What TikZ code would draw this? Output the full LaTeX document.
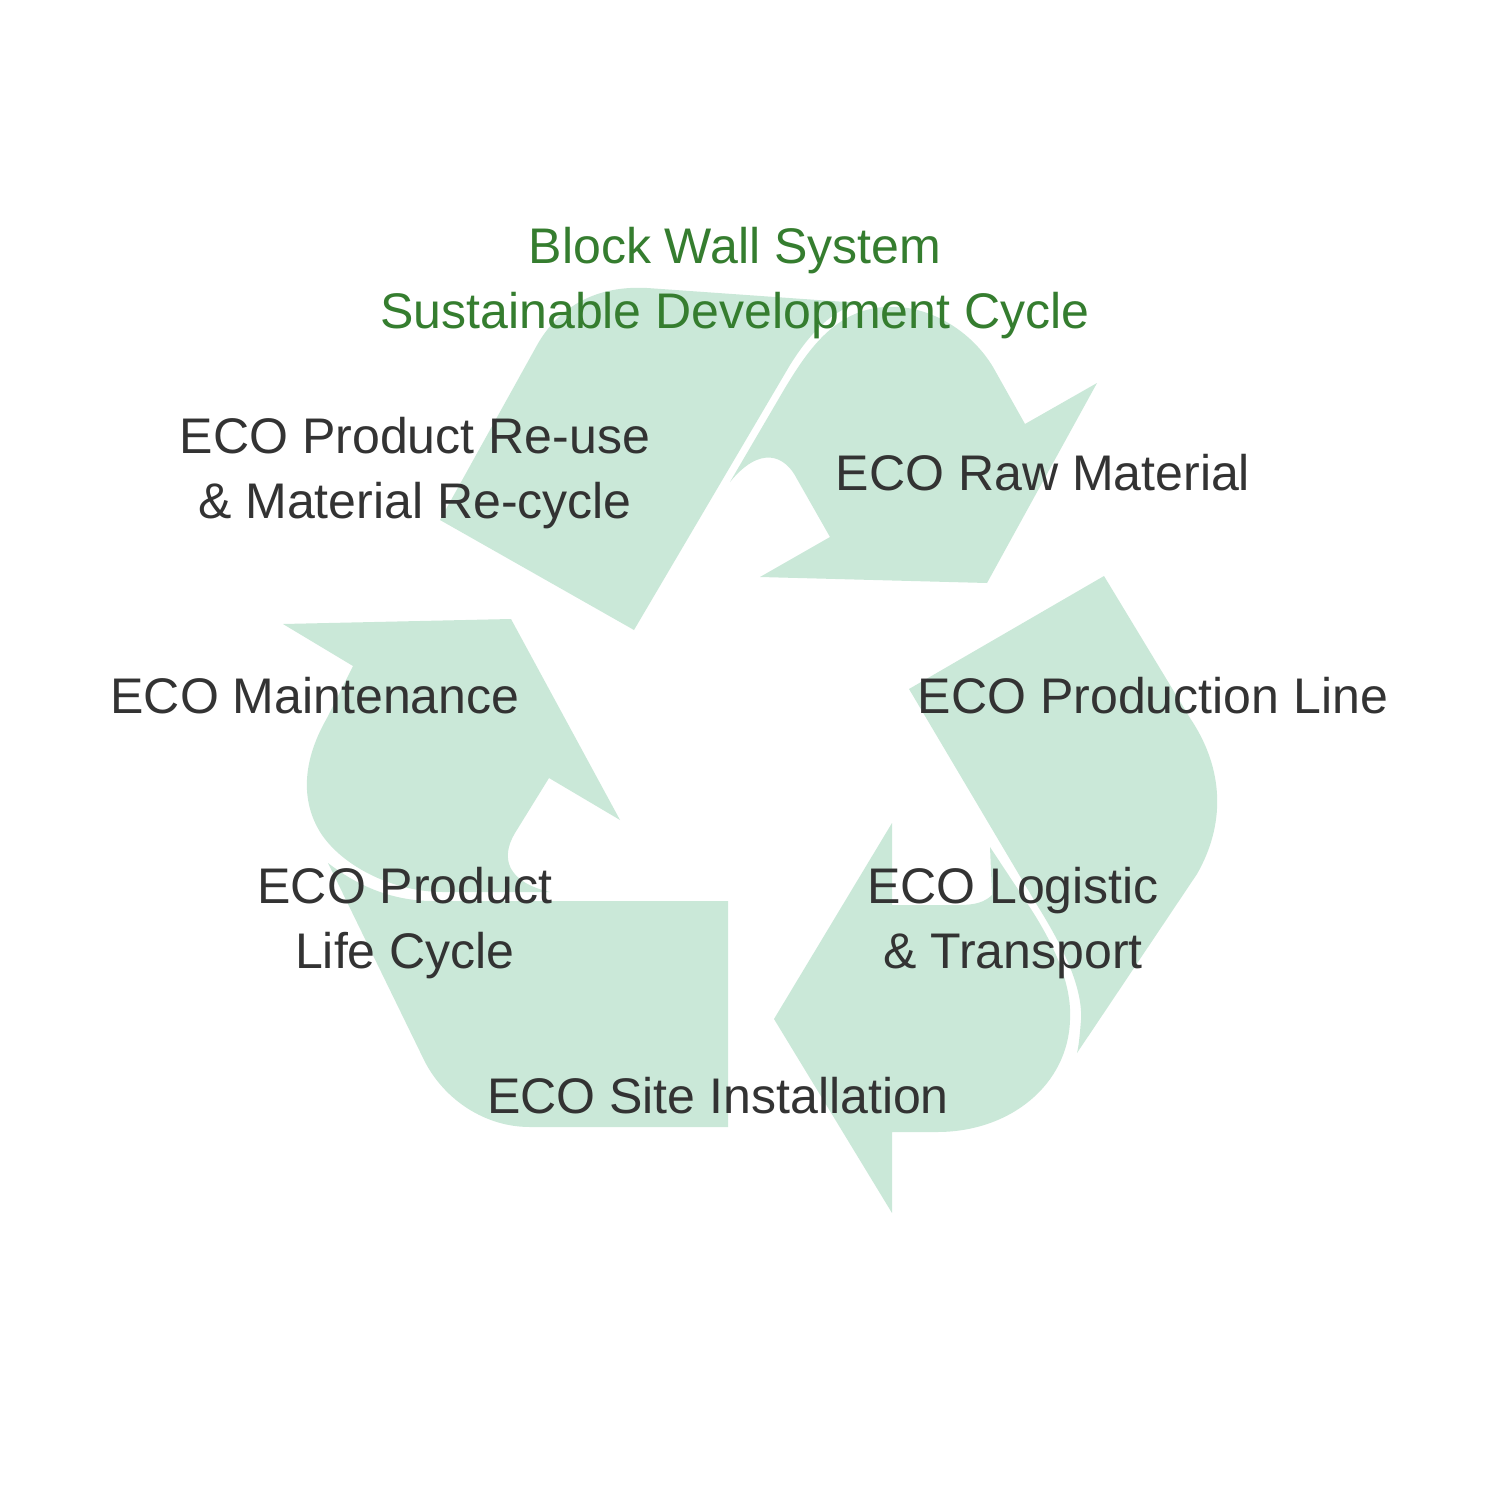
\documentclass[tikz,border=0pt]{standalone}
\usepackage{fontspec}
\setmainfont{Liberation Sans}
\definecolor{leaf}{HTML}{CAE8D8}
\definecolor{ink}{HTML}{333333}
\definecolor{titlegreen}{HTML}{357D2F}
\tikzset{
  px/.style={x=0.01cm,y=-0.01cm},
  band/.style={fill=leaf,draw=none},
  lab/.style={text=ink,inner sep=0pt,outer sep=0pt,align=center,anchor=base,font=\fontsize{14.23}{18.3}\selectfont},
  ttl/.style={lab,text=titlegreen}
}
\begin{document}
\begin{tikzpicture}[px]
\useasboundingbox (0,0) rectangle (1500,1500);
\fill[white] (0,0) rectangle (1500,1500);
% top-left band
\path[band] (440,520) -- (536,347) .. controls (555,312) and (590,285) .. (647,288) -- (860,303)
  .. controls (832,310) and (810,333) .. (790,365) -- (634,630) -- cycle;
% top-right arrow
\path[band] (730,482) -- (785,388) .. controls (808,350) and (835,310) .. (885,307)
  .. controls (930,304) and (972,332) .. (993,367) -- (1025,424) -- (1097,383) -- (987,583)
  -- (760,577) -- (830,537) -- (797,479) .. controls (785,455) and (760,445) .. (730,482) -- cycle;
% right band
\path[band] (1104,576) -- (1190,718) .. controls (1225,770) and (1225,825) .. (1197,874)
  -- (1077,1053) .. controls (1079,1045) and (1080,1032) .. (1081,1020)
  .. controls (1083,985) and (1060,942) .. (1037,905) -- (909,689) -- cycle;
% lower-right arrow
\path[band] (892,823) -- (892,905) -- (960,905) .. controls (975,905) and (985,902) .. (992,895)
  -- (990,847) -- (1027,903) .. controls (1055,945) and (1072,985) .. (1070,1020)
  .. controls (1068,1085) and (1010,1132) .. (937,1132) -- (892,1132) -- (892,1213) -- (774,1019) -- cycle;
% left arrow
\path[band] (283,624) -- (511,619) -- (620,820) -- (549,778) -- (515,833)
  .. controls (500,858) and (507,882) .. (550,892) -- (443,892)
  .. controls (395,892) and (345,868) .. (322,835)
  .. controls (302,805) and (300,765) .. (327,718) -- (353,666) -- cycle;
% bottom band
\path[band] (328,863) .. controls (350,880) and (385,901) .. (433,901) -- (728,901) -- (728,1127)
  -- (530,1127) .. controls (485,1127) and (445,1100) .. (425,1062) -- cycle;
% labels
\node[ttl] (title) at (735,328) {Block Wall System\\Sustainable Development Cycle};
\node[lab] (reuse) at (415,518) {ECO Product Re-use\\\& Material Re-cycle};
\node[lab] (raw) at (1043,490) {ECO Raw Material};
\node[lab] (prod) at (1153,713) {ECO Production Line};
\node[lab] (logi) at (1013,968) {ECO Logistic\\\& Transport};
\node[lab] (maint) at (315,713) {ECO Maintenance};
\node[lab] (life) at (405,968) {ECO Product\\Life Cycle};
\node[lab] (site) at (718,1113) {ECO Site Installation};
\end{tikzpicture}
\end{document}
